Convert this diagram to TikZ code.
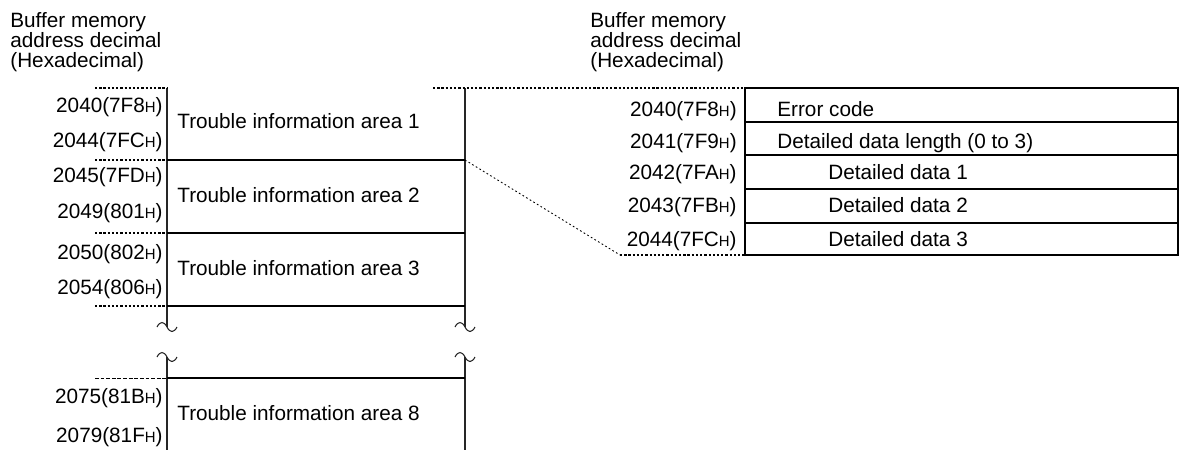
\documentclass[tikz,border=0pt]{standalone}
\usepackage{fontspec}
\setmainfont{Liberation Sans}
\usepackage{tikz}
\usetikzlibrary{positioning,calc}
\newcommand{\hx}[1]{#1{\fontsize{8.5}{8.5}\selectfont H}}

\begin{document}
\begin{tikzpicture}[
    x=0.02cm, y=-0.02cm,
    font=\fontsize{11.8}{11.4}\selectfont,
    head/.style={anchor=north west, align=left, inner sep=0pt},
    addr/.style={anchor=base east, inner sep=0pt},
    cell/.style={anchor=base west, inner sep=0pt},
    rowline/.style={line width=1.1pt},
    thinline/.style={line width=0.6pt},
    side/.style={line width=0.6pt, black!85},
    leader/.style={line width=1pt, dash pattern=on 1.3pt off 1.1pt},
    fineleader/.style={line width=0.5pt, dash pattern=on 2.2pt off 1pt},
    link/.style={line width=0.5pt, dash pattern=on 1pt off 1.4pt},
]
    \useasboundingbox (0,0) rectangle (1181,450);

    % Headers
    \node[head] (headl) at (10,12) {Buffer memory\\address decimal\\(Hexadecimal)};
    \node[head] (headr) at (590,12) {Buffer memory\\address decimal\\(Hexadecimal)};

    % Left table
    \coordinate (lnw) at (167,88);
    \coordinate (lne) at (465,88);
    \coordinate (l1) at (465,160);
    \draw[side] (lnw) -- (167,327);
    \draw[side] (167,357) -- (167,450);
    \draw[side] (lne) -- (465,327);
    \draw[side] (465,357) -- (465,450);
    \draw[rowline] (167,160) -- (l1);
    \draw[rowline] (167,233) -- (465,233);
    \draw[rowline] (167,306) -- (465,306);
    \draw[thinline] (167,378) -- (465,378);

    % Break marks
    \draw[side] (157,327) .. controls +(3,-6) and +(-3,-6) .. (167,327) .. controls +(3,6) and +(-3,6) .. (177,327);
    \draw[side] (157,357) .. controls +(3,-6) and +(-3,-6) .. (167,357) .. controls +(3,6) and +(-3,6) .. (177,357);
    \draw[side] (455,327) .. controls +(3,-6) and +(-3,-6) .. (465,327) .. controls +(3,6) and +(-3,6) .. (475,327);
    \draw[side] (455,357) .. controls +(3,-6) and +(-3,-6) .. (465,357) .. controls +(3,6) and +(-3,6) .. (475,357);

    % Leaders
    \draw[leader] (95,88) -- (lnw);
    \draw[leader] (95,160) -- (167,160);
    \draw[leader] (95,233) -- (167,233);
    \draw[leader] (95,306) -- (167,306);
    \draw[fineleader] (95,378) -- (167,378);

    % Left addresses
    \node[addr] (a2040) at (163,112) {2040(\hx{7F8})};
    \node[addr] (a2044) at (163,147) {2044(\hx{7FC})};
    \node[addr] (a2045) at (163,182) {2045(\hx{7FD})};
    \node[addr] (a2049) at (163,218) {2049(\hx{801})};
    \node[addr] (a2050) at (163,259) {2050(\hx{802})};
    \node[addr] (a2054) at (163,294) {2054(\hx{806})};
    \node[addr] (a2075) at (163,403) {2075(\hx{81B})};
    \node[addr] (a2079) at (163,442) {2079(\hx{81F})};

    % Left areas
    \node[cell] (area1) at (177,128) {Trouble information area 1};
    \node[cell] (area2) at (177,202) {Trouble information area 2};
    \node[cell] (area3) at (177,275) {Trouble information area 3};
    \node[cell] (area8) at (177,420) {Trouble information area 8};

    % Right table
    \coordinate (rnw) at (745,88);
    \coordinate (rsw) at (745,255);
    \coordinate (bend) at (620,255);
    \draw[thinline] (rnw) -- (1178,88) -- (1178,255) -- (rsw) -- cycle;
    \draw[rowline] (745,122) -- (1178,122);
    \draw[rowline] (745,155) -- (1178,155);
    \draw[thinline] (745,189) -- (1178,189);
    \draw[thinline] (745,223) -- (1178,223);

    % Right addresses
    \node[addr] (b2040) at (737,116) {2040(\hx{7F8})};
    \node[addr] (b2041) at (737,148) {2041(\hx{7F9})};
    \node[addr] (b2042) at (737,179) {2042(\hx{7FA})};
    \node[addr] (b2043) at (737,212) {2043(\hx{7FB})};
    \node[addr] (b2044) at (737,246) {2044(\hx{7FC})};

    % Right cells
    \node[cell] (err) at (777,116) {Error code};
    \node[cell] (len) at (777,148) {Detailed data length (0 to 3)};
    \node[cell] (dat1) at (828,179) {Detailed data 1};
    \node[cell] (dat2) at (828,212) {Detailed data 2};
    \node[cell] (dat3) at (828,246) {Detailed data 3};

    % Links
    \draw[leader] (433,88) -- (rnw);
    \draw[link] (l1) -- (bend);
    \draw[leader] (bend) -- (rsw);
\end{tikzpicture}
\end{document}
